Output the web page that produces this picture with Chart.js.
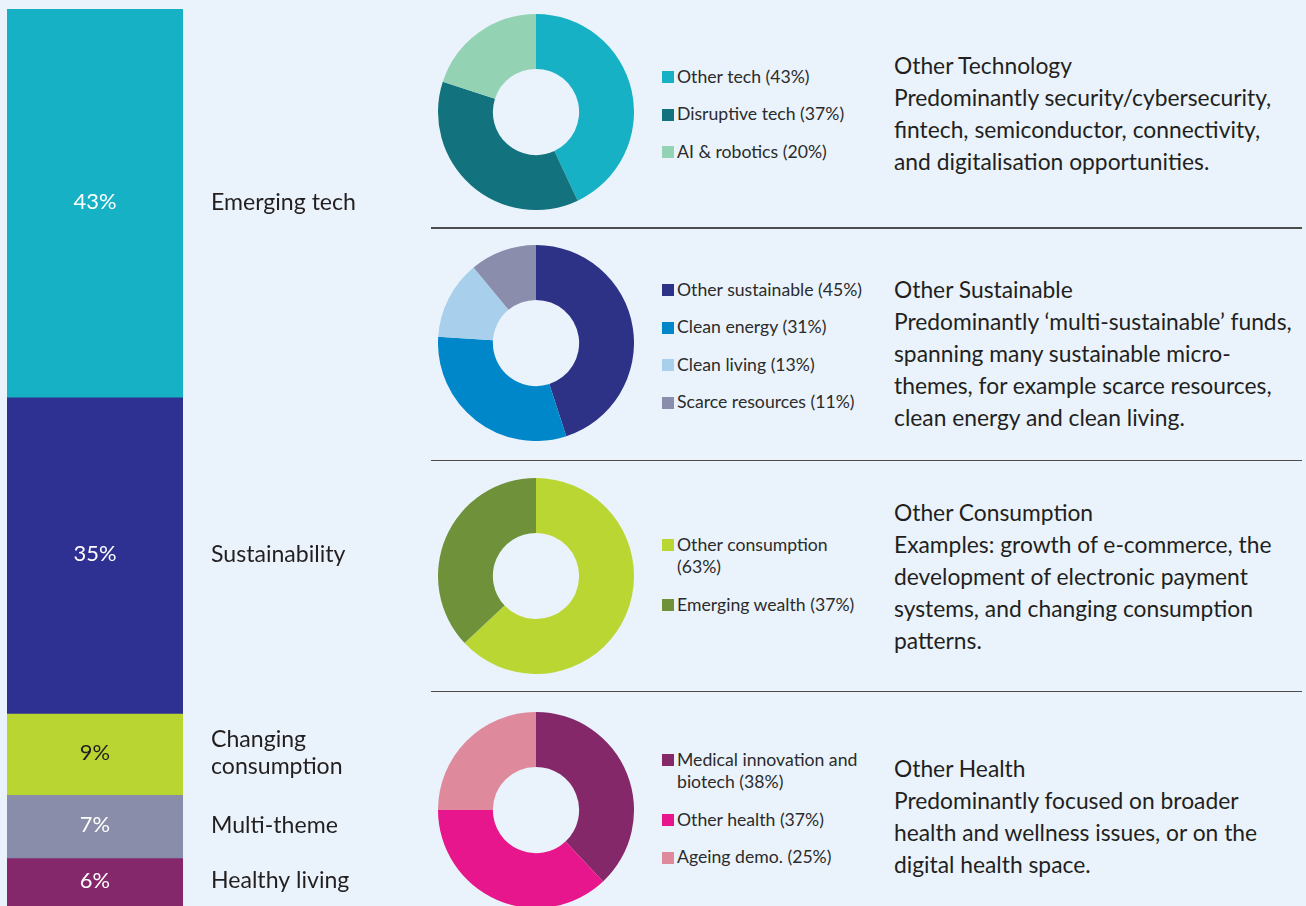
<!DOCTYPE html>
<html>
<head>
<meta charset="utf-8">
<script src="https://cdn.jsdelivr.net/npm/chart.js@4.4.1/dist/chart.umd.min.js"></script>
<style>
  html, body { margin:0; padding:0; width:1306px; height:906px; overflow:hidden; background:#EAF3FB; }
  #root { position:relative; width:1306px; height:906px; overflow:hidden; color:#231F20; }
  .abs { position:absolute; }
  .sep { position:absolute; left:431px; width:871px; height:1.5px; background:#4d4d4d; }
  .legend { position:absolute; left:662px; }
  .item { display:flex; align-items:flex-start; margin-bottom:15px; }
  .item:last-child { margin-bottom:0; }
  .sw { width:12px; height:12px; flex:0 0 12px; margin-right:3px; }
  .tx { width:192px; line-height:22.5px; color:#2b2b2b; }
  .desc { position:absolute; left:894px; line-height:32px; white-space:nowrap; color:#231F20; }
</style>
</head>
<body>
<div id="root">
  <canvas id="bar" class="abs" width="420" height="903" style="left:7px;top:9px;"></canvas>
  <canvas id="d1" class="abs" width="196" height="196" style="left:438px;top:14px;"></canvas>
  <canvas id="d2" class="abs" width="196" height="196" style="left:438px;top:245px;"></canvas>
  <canvas id="d3" class="abs" width="196" height="196" style="left:438px;top:478px;"></canvas>
  <canvas id="d4" class="abs" width="196" height="196" style="left:438px;top:712px;"></canvas>
  <div class="sep" style="top:227px"></div>
  <div class="sep" style="top:459.5px"></div>
  <div class="sep" style="top:690.5px"></div>
  <div id="lg1" class="legend" style="top:65.75px"></div>
  <div id="lg2" class="legend" style="top:278.75px"></div>
  <div id="lg3" class="legend" style="top:533.75px"></div>
  <div id="lg4" class="legend" style="top:748.75px"></div>
  <div id="ds1" class="desc" style="top:49px"></div>
  <div id="ds2" class="desc" style="top:273px"></div>
  <div id="ds3" class="desc" style="top:496px"></div>
  <div id="ds4" class="desc" style="top:752px"></div>
</div>
<script>
// ---- data ----
const barCategories = ["Emerging tech", "Sustainability", "Changing consumption", "Multi-theme", "Healthy living"];
const barValues = [43, 35, 9, 7, 6];

const techLabels = ["Other tech", "Disruptive tech", "AI & robotics"];
const techValues = [43, 37, 20];

const sustLabels = ["Other sustainable", "Clean energy", "Clean living", "Scarce resources"];
const sustValues = [45, 31, 13, 11];

const consLabels = ["Other consumption", "Emerging wealth"];
const consValues = [63, 37];

const healthLabels = ["Medical innovation and biotech", "Other health", "Ageing demo."];
const healthValues = [38, 37, 25];

const descTech = ["Other Technology", "Predominantly security/cybersecurity,", "fintech, semiconductor, connectivity,", "and digitalisation opportunities."];
const descSust = ["Other Sustainable", "Predominantly \u2018multi-sustainable\u2019 funds,", "spanning many sustainable micro-", "themes, for example scarce resources,", "clean energy and clean living."];
const descCons = ["Other Consumption", "Examples: growth of e-commerce, the", "development of electronic payment", "systems, and changing consumption", "patterns."];
const descHealth = ["Other Health", "Predominantly focused on broader", "health and wellness issues, or on the", "digital health space."];

// ---- styles ----
const barColors = ["#16B1C5", "#2E3192", "#B9D532", "#8A8DAA", "#84276B"];
const barLabelColors = ["#ffffff", "#ffffff", "#231F20", "#ffffff", "#ffffff"];
const techColors = ["#16B1C5", "#12737E", "#94D2B4"];
const sustColors = ["#2D3287", "#0087CA", "#A8CFEB", "#8A8DAB"];
const consColors = ["#B9D633", "#6F913A"];
const healthColors = ["#84286A", "#E8168C", "#DE899C"];
const TEXT = "#231F20";
const FONT = 'Lato, "Open Sans", sans-serif';

const mctx = document.createElement('canvas').getContext('2d');
function fit(text, target) { mctx.font = '100px ' + FONT; return 100 * target / mctx.measureText(text).width; }
const descSize = fit("Predominantly security/cybersecurity,", 378);
const catSize = fit("Emerging tech", 145);
const valSize = fit("43%", 43);
const legSize = fit("Other sustainable (45%)", 185.6);

document.getElementById('root').style.fontFamily = FONT;

function wrap(ctx, text, maxW) {
  const words = text.split(' '); const lines = []; let cur = '';
  words.forEach(w => {
    const t = cur ? cur + ' ' + w : w;
    if (cur && ctx.measureText(t).width > maxW) { lines.push(cur); cur = w; } else cur = t;
  });
  if (cur) lines.push(cur);
  return lines;
}

const barLabelPlugin = {
  id: 'barLabels',
  afterDatasetsDraw(chart) {
    const ctx = chart.ctx, area = chart.chartArea;
    const visBottom = window.innerHeight - chart.canvas.offsetTop;
    chart.data.datasets.forEach((ds, i) => {
      const el = chart.getDatasetMeta(i).data[0];
      const top = Math.min(el.y, el.base);
      const bot = Math.min(Math.max(el.y, el.base), visBottom);
      const cy = (top + bot) / 2 - 1;
      ctx.save();
      ctx.textBaseline = 'middle';
      ctx.font = valSize + 'px ' + FONT;
      ctx.fillStyle = barLabelColors[i];
      ctx.textAlign = 'center';
      ctx.fillText(ds.data[0] + '%', (area.left + area.right) / 2, cy);
      ctx.font = catSize + 'px ' + FONT;
      ctx.fillStyle = TEXT;
      ctx.textAlign = 'left';
      const lines = wrap(ctx, ds.label, 165);
      const lh = 27;
      lines.forEach((ln, k) => ctx.fillText(ln, area.right + 28, cy + (k - (lines.length - 1) / 2) * lh));
      ctx.restore();
    });
  }
};

new Chart(document.getElementById('bar'), {
  type: 'bar',
  data: {
    labels: ['Share'],
    datasets: barCategories.map((c, i) => ({
      label: c, data: [barValues[i]], backgroundColor: barColors[i],
      borderWidth: 0, barPercentage: 1, categoryPercentage: 1
    }))
  },
  options: {
    responsive: false, animation: false,
    layout: { padding: { left: 0, top: 0, bottom: 0, right: 244 } },
    scales: {
      x: { stacked: true, display: false },
      y: { stacked: true, display: false, reverse: true, min: 0, max: 100 }
    },
    plugins: { legend: { display: false }, tooltip: { enabled: false } }
  },
  plugins: [barLabelPlugin]
});

function donut(id, labels, values, colors) {
  new Chart(document.getElementById(id), {
    type: 'doughnut',
    data: { labels: labels, datasets: [{ data: values, backgroundColor: colors, borderWidth: 0, hoverOffset: 0 }] },
    options: {
      responsive: false, animation: false, cutout: '44%',
      layout: { padding: 0 },
      plugins: { legend: { display: false }, tooltip: { enabled: false } }
    }
  });
}

function legend(id, labels, values, colors) {
  const el = document.getElementById(id);
  labels.forEach((l, i) => {
    const it = document.createElement('div'); it.className = 'item';
    const sw = document.createElement('span'); sw.className = 'sw';
    sw.style.background = colors[i]; sw.style.marginTop = ((22.5 - 12) / 2) + 'px';
    const tx = document.createElement('span'); tx.className = 'tx';
    tx.style.fontSize = legSize + 'px';
    tx.textContent = l + ' (' + values[i] + '%)';
    it.appendChild(sw); it.appendChild(tx); el.appendChild(it);
  });
}

function desc(id, lines) {
  const el = document.getElementById(id);
  el.style.fontSize = descSize + 'px';
  lines.forEach((ln, i) => {
    if (i) el.appendChild(document.createElement('br'));
    el.appendChild(document.createTextNode(ln));
  });
}

donut('d1', techLabels, techValues, techColors);
donut('d2', sustLabels, sustValues, sustColors);
donut('d3', consLabels, consValues, consColors);
donut('d4', healthLabels, healthValues, healthColors);
legend('lg1', techLabels, techValues, techColors);
legend('lg2', sustLabels, sustValues, sustColors);
legend('lg3', consLabels, consValues, consColors);
legend('lg4', healthLabels, healthValues, healthColors);
desc('ds1', descTech);
desc('ds2', descSust);
desc('ds3', descCons);
desc('ds4', descHealth);
</script>
</body>
</html>
